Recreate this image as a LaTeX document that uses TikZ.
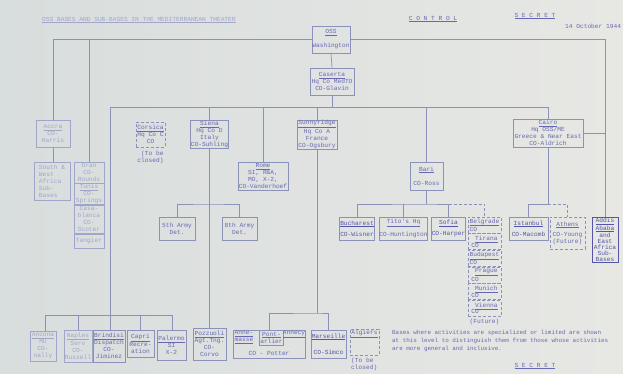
\documentclass[tikz,border=0pt]{standalone}
\usepackage{fontspec}
\setmonofont{Liberation Mono}
\usepackage{tikz}
\usetikzlibrary{positioning}
\definecolor{paper}{RGB}{216,221,221}
\definecolor{paperlight}{RGB}{231,232,228}
\definecolor{ink}{RGB}{104,104,178}
\definecolor{deepink}{RGB}{84,84,168}
\definecolor{faint}{RGB}{160,165,202}
\definecolor{rule}{RGB}{140,145,186}
\newcommand{\tw}{\ttfamily\fontsize{6.2}{7}\selectfont}
\newcommand{\twsmall}{\ttfamily\fontsize{5.9}{8}\selectfont}
\newcommand{\twtight}{\ttfamily\fontsize{6.2}{6.3}\selectfont}
\tikzset{
    base/.style={
        rectangle,
        draw=rule,
        line width=0.7pt,
        text=ink,
        font=\tw,
        align=center,
        inner sep=0.5pt
    },
    dashbox/.style={
        base,
        dash pattern=on 3pt off 2pt
    },
    faded/.style={draw=faint, text=faint},
    boxsize/.style 2 args={minimum width=#1pt, minimum height=#2pt},
    link/.style={
        draw=rule,
        line width=0.7pt
    },
    dashlink/.style={
        link,
        dash pattern=on 3pt off 2pt
    },
    plain/.style={
        text=ink,
        font=\tw,
        align=center,
        inner sep=0pt
    }
}
\begin{document}
\begin{tikzpicture}[x=1pt, y=-1pt]
    \shade[left color=paper, right color=paperlight] (0,0) rectangle (623,374);
    \useasboundingbox (0,0) rectangle (623,374);

    % Heading
    \node[plain, text=faint, anchor=west] (title) at (42,20) {\underline{OSS BASES AND SUB-BASES IN THE MEDITERRANEAN THEATER}};
    \node[plain] (control) at (433,19) {\underline{C O N T R O L}};
    \node[plain] (secret) at (535,16) {\underline{S E C R E T}};
    \node[plain, anchor=west] (date) at (565,26) {14 October 1944};

    % Washington and Caserta
    \node[base, boxsize={38}{27}] (oss) at (331,39.5) {\underline{OSS}\\[7pt]Washington};
    \node[base, boxsize={44}{27}] (caserta) at (332,81.5) {\underline{Caserta}\\Hq Co MedTO\\CO-Glavin};

    % Africa
    \node[base, faded, boxsize={34}{27}] (accra) at (53,133.5) {\underline{Accra}\\CO-\\Harris};
    \node[base, faded, boxsize={36}{38}, align=left] (swafrica) at (52,181) {South \&\\West\\Africa\\Sub-\\Bases};
    \node[base, faded, boxsize={30}{21}] (oran) at (89,172.5) {Oran\\CO-\\Rounds};
    \node[base, faded, boxsize={30}{20}, below=0pt of oran] (tunis) {\underline{Tunis}\\CO-\\Springs};
    \node[base, faded, boxsize={30}{28}, below=0pt of tunis] (casa) {Casa-\\blanca\\CO-\\Scoter};
    \node[base, faded, boxsize={30}{14}, below=0pt of casa] (tangier) {Tangier};

    % Second level
    \node[dashbox, boxsize={29}{25}] (corsica) at (150.5,134.5) {\underline{Corsica}\\Hq Co C\\CO};
    \node[plain, align=right, below=3pt of corsica] (corsicanote) {(To be\\closed)};
    \node[base, boxsize={37}{25}] (siena) at (209.5,134.5) {\underline{Siena}\\Hq Co D\\Italy\\CO-Suhling};
    \node[base, boxsize={50}{28}] (rome) at (263,176) {\underline{Rome}\\SI, R\&A,\\MO, X-2,\\CO-Vanderhoef};
    \node[base, boxsize={40}{25}] (sunny) at (317,134.5) {\underline{Sunnyridge}\\Hq Co A\\France\\CO-Ogsbury};
    \node[base, boxsize={33}{28}] (bari) at (426.5,176) {\underline{Bari}\\[7pt]CO-Ross};
    \node[base, boxsize={70}{28}] (cairo) at (548,133) {\underline{Cairo}\\Hq OSS/ME\\Greece \& Near East\\CO-Aldrich};
    \node[base, draw=deepink, text=deepink, boxsize={26}{44}, font=\ttfamily\fontsize{6.2}{6}\selectfont] (addis) at (605,240) {\underline{Addis}\\\underline{Ababa}\\and\\East\\Africa\\Sub-\\Bases};

    % Army detachments
    \node[base, boxsize={36}{23}] (fifth) at (177,228.5) {5th Army\\Det.};
    \node[base, boxsize={35}{23}] (eighth) at (239.5,228.5) {8th Army\\Det.};

    % Balkans
    \node[base, text=deepink, boxsize={32}{23}] (bucharest) at (357,228.5) {\underline{Bucharest}\\[4pt]CO-Wisner};
    \node[base, boxsize={47}{23}, inner sep=0pt] (titos) at (403.5,228.5) {\underline{Tito's Hq}\\[4pt]CO-Huntington};
    \node[base, text=deepink, boxsize={33}{23}] (sofia) at (448.5,228.5) {\underline{Sofia}\\[4pt]CO-Harper};
    \node[dashbox, boxsize={33}{16}, align=left, font=\twtight] (belgrade) at (484.5,225) {\underline{Belgrade}\\CO};
    \node[dashbox, boxsize={33}{16}, align=left, font=\twtight, below=0pt of belgrade] (tirana) {\ \underline{Tirana}\\CO};
    \node[dashbox, boxsize={33}{16}, align=left, font=\twtight, below=0pt of tirana] (budapest) {\underline{Budapest}\\CO};
    \node[dashbox, boxsize={33}{16}, align=left, font=\twtight, below=0pt of budapest] (prague) {\ \underline{Prague}\\CO};
    \node[dashbox, boxsize={33}{16}, align=left, font=\twtight, below=0pt of prague] (munich) {\ \underline{Munich}\\CO};
    \node[dashbox, boxsize={33}{16}, align=left, font=\twtight, below=0pt of munich] (vienna) {\ \underline{Vienna}\\CO};
    \node[plain, below=2pt of vienna] (balkfuture) {(Future)};

    % Near East
    \node[base, text=deepink, boxsize={39}{23}] (istanbul) at (528.5,228.5) {\underline{Istanbul}\\[4pt]CO-Macomb};
    \node[dashbox, boxsize={35}{32}] (athens) at (567.5,233) {\underline{Athens}\\[3pt]CO-Young\\(Future)};

    % Italian sub-bases
    \node[base, faded, boxsize={26}{30}] (ancona) at (43,346) {\underline{Ancona}\\MU\\CO-\\nally};
    \node[base, faded, boxsize={28}{32}] (naples) at (78,346) {\underline{Naples}\\Serv\\CO-\\Russell};
    \node[base, boxsize={32}{32}] (brindisi) at (109,346) {\underline{Brindisi}\\Dispatch\\CO-\\Jiminez};
    \node[base, boxsize={27}{27}] (capri) at (140.5,343.5) {\underline{Capri}\\Recre-\\ation};
    \node[base, boxsize={29}{30}] (palermo) at (171.5,345) {\underline{Palermo}\\SI\\X-2};
    \node[base, boxsize={33}{32}] (pozzuoli) at (209.5,344) {\underline{Pozzuoli}\\Agt.Tng.\\CO-\\Corvo};

    % French sub-bases
    \node[base, boxsize={72}{28}] (frgroup) at (269,344) {};
    \node[plain] (annemasse) at (244,337) {\underline{Anne-}\\\underline{masse}};
    \node[base, boxsize={23}{15}] (pontarlier) at (271.5,337.5) {\underline{Pont-}\\arlier};
    \node[plain] (annecy) at (294,334) {\underline{Annecy}};
    \node[plain] (potter) at (269,353) {CO - Potter};
    \node[base, text=deepink, boxsize={35}{28}] (marseille) at (328.5,344) {\underline{Marseille}\\[9pt]CO-Simco};
    \node[dashbox, boxsize={29}{26}] (algiers) at (364.5,342) {\underline{Algiers}\\[12pt]\mbox{}};
    \node[plain, align=left, anchor=north west] (algiersnote) at (351,358) {(To be\\closed)};

    % Note
    \node[plain, font=\twsmall, align=left, anchor=west] (note) at (392,341) {Bases where activities are specialized or limited are shown\\at this level to distinguish them from those whose activities\\are more general and inclusive.};
    \node[plain] (secretfoot) at (535,366) {\underline{S E C R E T}};

    % Top connections
    \draw[link] (oss.west) -| (accra.north);
    \draw[link] (oss.west -| oran.north) -- (oran.north);
    \draw[link] (oss.east) -| (addis.north);
    \draw[link] (accra.south) -- (accra.south |- swafrica.north);
    \draw[link] (oss.south) -- (caserta.north);

    % Caserta bus
    \coordinate (medL) at (110,107);
    \coordinate (medR) at (cairo.north |- medL);
    \draw[link] (caserta.south) -- (caserta.south |- medL);
    \draw[link] (medL) -- (medR);
    \draw[link] (siena.north |- medL) -- (siena.north);
    \draw[link] (rome.north |- medL) -- (rome.north);
    \draw[link] (sunny.north |- medL) -- (sunny.north);
    \draw[link] (bari.north |- medL) -- (bari.north);
    \draw[link] (medR) -- (cairo.north);

    % Italy
    \coordinate (itL) at (45,315);
    \coordinate (itR) at (172,315);
    \draw[link] (medL) -- (medL |- brindisi.north);
    \draw[link] (itL) -- (itR);
    \draw[link] (itL) -- (itL |- ancona.north);
    \draw[link] (naples.north |- itL) -- (naples.north);
    \draw[link] (capri.north |- itL) -- (capri.north);
    \draw[link] (itR) -- (itR |- palermo.north);
    \draw[link] (siena.south) -- (pozzuoli.north);
    \coordinate (army) at (209.5,204);
    \draw[link] (fifth.north) |- (army) -| (eighth.north);

    % France
    \coordinate (fr) at (317,313);
    \draw[link] (sunny.south) -- (fr);
    \draw[link] (frgroup.north) |- (fr) -| (marseille.north);

    % Balkans
    \coordinate (balk) at (426.5,204);
    \draw[link] (bari.south) -- (balk);
    \draw[link] (bucharest.north) |- (balk) -| (sofia.north);
    \draw[link] (titos.north |- balk) -- (titos.north);
    \draw[dashlink] (sofia.north |- balk) -| (belgrade.north);

    % Near East
    \coordinate (near) at (548,204);
    \draw[link] (cairo.south) -- (near);
    \draw[link] (istanbul.north) |- (near);
    \draw[dashlink] (near) -| (athens.north);
    \draw[link] (cairo.east) -- (cairo.east -| addis.north);
\end{tikzpicture}
\end{document}
